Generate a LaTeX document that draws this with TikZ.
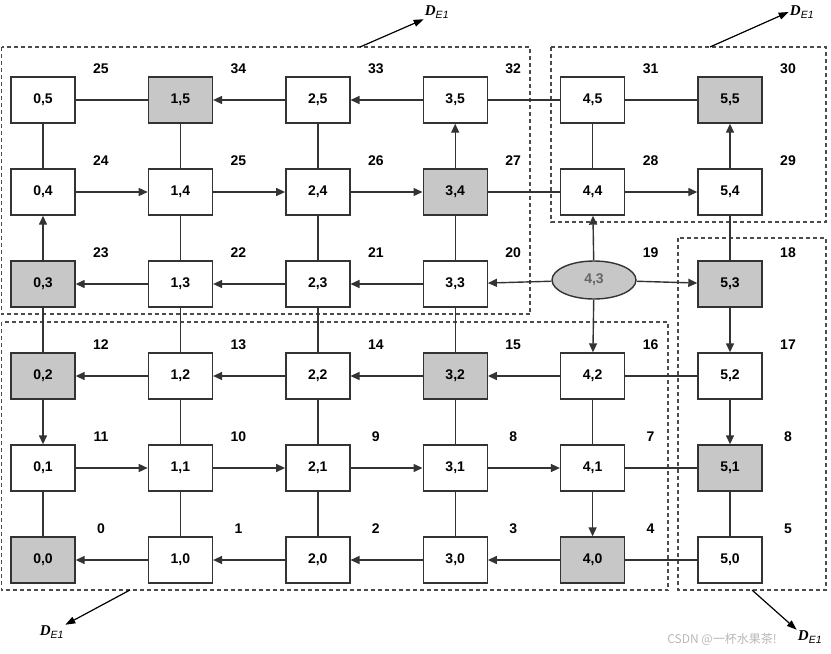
\documentclass[tikz,border=0pt]{standalone}
\usepackage{fontspec}
\setmainfont{Liberation Sans}
\newfontfamily\dfont{Liberation Serif}
\newfontfamily\cjkfont{Noto Sans CJK SC}
\usetikzlibrary{arrows.meta,shapes.geometric}
\begin{document}
\begin{tikzpicture}[x=1pt,y=-1pt,
 cell/.style={draw=black!80,line width=1.4pt,fill=white,minimum width=64pt,minimum height=46pt,inner sep=0pt,font=\fontsize{14}{16}\selectfont\bfseries},
 hot/.style={cell,fill=black!22},
 src/.style={ellipse,draw=black!80,line width=1.4pt,fill=black!22,minimum width=84pt,minimum height=38pt,inner sep=0pt,text=black!60,font=\fontsize{14}{16}\selectfont\bfseries},
 num/.style={font=\fontsize{14}{16}\selectfont\bfseries},
 link/.style={draw=black!80,line width=1.4pt},
 flow/.style={link,-{Triangle[length=9pt,width=8pt]}},
 region/.style={draw=black!70,line width=1.2pt,dash pattern=on 4pt off 3pt},
 ptr/.style={draw=black,line width=1.2pt,-{Triangle[length=10pt,width=7pt]}},
 dlab/.style={inner sep=1pt,font=\dfont\bfseries\itshape\fontsize{15}{16}\selectfont},
 wm/.style={text=black!28,font=\cjkfont\fontsize{12}{14}\selectfont}
]
\useasboundingbox (0,0) rectangle (831,654);

% regions
\draw[region] (1.5,47) rectangle (530,314);
\draw[region] (551,47) rectangle (826,222);
\draw[region] (1.5,322) rectangle (668,590);
\draw[region] (678,238) rectangle (826,590);

% cells
\foreach \i/\j/\s in {
 0/0/hot,1/0/cell,2/0/cell,3/0/cell,4/0/hot,5/0/cell,
 0/1/cell,1/1/cell,2/1/cell,3/1/cell,4/1/cell,5/1/hot,
 0/2/hot,1/2/cell,2/2/cell,3/2/hot,4/2/cell,5/2/cell,
 0/3/hot,1/3/cell,2/3/cell,3/3/cell,5/3/hot,
 0/4/cell,1/4/cell,2/4/cell,3/4/hot,4/4/cell,5/4/cell,
 0/5/cell,1/5/hot,2/5/cell,3/5/cell,4/5/cell,5/5/hot}
 \node[\s] (n\i\j) at ({43+137.4*\i},{560-92*\j}) {\i,\j};
\node[src] (n43) at (594,280) {4,3};

% step numbers
\foreach \i/\j/\t in {
 0/0/0,1/0/1,2/0/2,3/0/3,4/0/4,5/0/5,
 0/1/11,1/1/10,2/1/9,3/1/8,4/1/7,5/1/8,
 0/2/12,1/2/13,2/2/14,3/2/15,4/2/16,5/2/17,
 0/3/23,1/3/22,2/3/21,3/3/20,4/3/19,5/3/18,
 0/4/24,1/4/25,2/4/26,3/4/27,4/4/28,5/4/29,
 0/5/25,1/5/34,2/5/33,3/5/32,4/5/31,5/5/30}
 \node[num] (l\i\j) at ({101+137.4*\i},{529-92*\j}) {\t};

% plain links
\foreach \a/\b in {n05/n15,n35/n45,n45/n55,n34/n44,n42/n52,n41/n51,n40/n50,
 n05/n04,n03/n02,n01/n00,
 n15/n14,n14/n13,n13/n12,n12/n11,n11/n10,
 n25/n24,n24/n23,n23/n22,n22/n21,n21/n20,
 n34/n33,n33/n32,n32/n31,n31/n30,
 n45/n44,n42/n41,n53/n54,n51/n50}
 \draw[link] (\a) -- (\b);

% directed links
\foreach \a/\b in {n25/n15,n35/n25,n04/n14,n14/n24,n24/n34,n44/n54,
 n13/n03,n23/n13,n33/n23,n43/n33,n43/n53,
 n12/n02,n22/n12,n32/n22,n42/n32,
 n01/n11,n11/n21,n21/n31,n31/n41,
 n10/n00,n20/n10,n30/n20,n40/n30,
 n03/n04,n02/n01,n34/n35,n43/n44,n43/n42,n41/n40,n54/n55,n53/n52,n52/n51}
 \draw[flow] (\a) -- (\b);

% region pointers
\coordinate (s1) at (360,47);
\coordinate (s2) at (710,47);
\coordinate (s3) at (130,590);
\coordinate (s4) at (752,590);
\node[dlab] (d1) at (437,12) {D$_{\mathit{E1}}$};
\node[dlab] (d2) at (802,12) {D$_{\mathit{E1}}$};
\node[dlab] (d3) at (52,632) {D$_{\mathit{E1}}$};
\node[dlab] (d4) at (810,637) {D$_{\mathit{E1}}$};
\draw[ptr] (s1) -- (d1.south west);
\draw[ptr] (s2) -- (d2.west);
\draw[ptr] (s3) -- (d3.north east);
\draw[ptr] (s4) -- (d4.north west);

\node[wm] (wm) at (722,639) {CSDN @一杯水果茶!};
\end{tikzpicture}
\end{document}
